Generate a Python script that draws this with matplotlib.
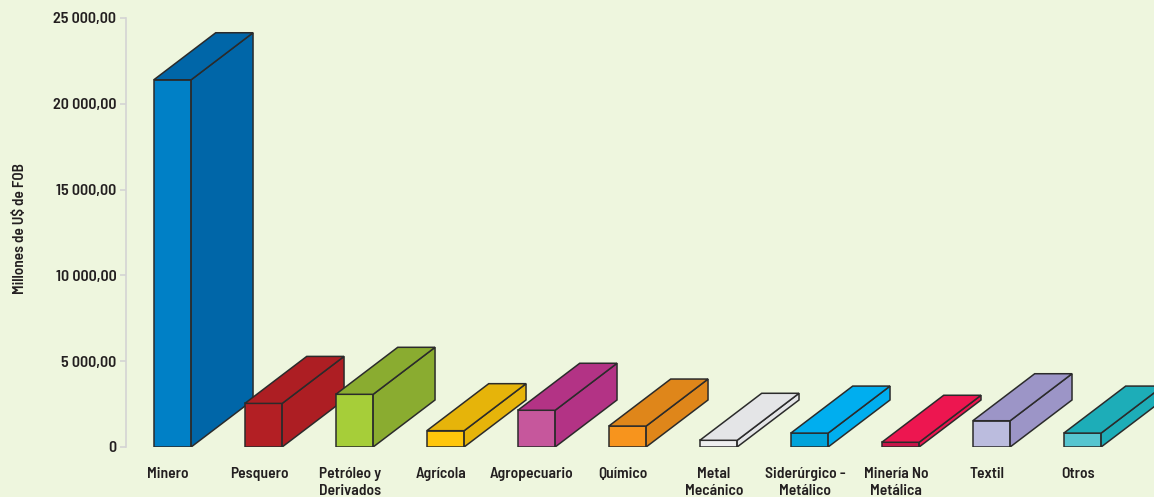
import matplotlib
matplotlib.use("Agg")
import matplotlib.pyplot as plt
from matplotlib.ticker import FuncFormatter

categorias = ["Minero", "Pesquero", "Petróleo y\nDerivados", "Agrícola", "Agropecuario",
              "Químico", "Metal\nMecánico", "Siderúrgico -\nMetálico", "Minería No\nMetálica",
              "Textil", "Otros"]
valores = [21400, 2540, 3070, 950, 2140, 1220, 390, 810, 275, 1530, 810]
color_frente = ["#0080c6", "#b31f24", "#a6ce39", "#ffc60b", "#c6579c", "#f7941d",
                "#eeeeef", "#00a3da", "#c8164a", "#bbbcde", "#56c5d0"]
color_lado = ["#0066a8", "#ad1e23", "#8aac30", "#e6b40a", "#b33385", "#df861a",
              "#e4e5e7", "#00aeef", "#ed1650", "#9c95c7", "#1dadb8"]

fondo = "#eef6de"
texto = "#231f20"
fuente = ["Barlow Semi Condensed", "Liberation Sans Narrow", "DejaVu Sans"]

fig = plt.figure(figsize=(11.54, 4.97), dpi=100, facecolor=fondo)
ax = fig.add_axes([126 / 1154, 50 / 497, 1028 / 1154, 429 / 497])
ax.set_facecolor(fondo)

ancho = 0.41      # ancho del frente
dx = 0.68         # profundidad en x
dy = 2740         # profundidad en y

for i, v in enumerate(valores):
    x0 = i - ancho / 2
    x1 = i + ancho / 2
    ec = "#2b2b2b"
    # frente
    ax.fill([x0, x1, x1, x0], [0, 0, v, v], facecolor=color_frente[i], edgecolor=ec, lw=1.1, zorder=3 + i)
    # lado
    ax.fill([x1, x1 + dx, x1 + dx, x1], [0, dy, v + dy, v], facecolor=color_lado[i], edgecolor=ec, lw=1.1, zorder=3 + i)
    # tapa
    ax.fill([x0, x1, x1 + dx, x0 + dx], [v, v, v + dy, v + dy], facecolor=color_lado[i], edgecolor=ec, lw=1.1, zorder=3 + i)

ax.set_xlim(-0.511, 10.786)
ax.set_ylim(0, 25000)
ax.set_yticks(range(0, 25001, 5000))


def fmt(y, pos):
    if y == 0:
        return "0"
    return f"{int(y):,}".replace(",", " ") + ",00"


ax.yaxis.set_major_formatter(FuncFormatter(fmt))
for s in ["top", "right", "bottom"]:
    ax.spines[s].set_visible(False)
ax.spines["left"].set_color("#d4d4d4")
ax.spines["left"].set_linewidth(1.2)
ax.tick_params(axis="y", colors="#d4d4d4", length=4, width=1.2, pad=3, labelcolor=texto)
ax.tick_params(axis="x", length=0)
ax.set_xticks([])
for lab in ax.get_yticklabels():
    lab.set_fontfamily(fuente)
    lab.set_fontsize(11.5)
    lab.set_fontweight("semibold")

for i, c in enumerate(categorias):
    ax.text(i - 0.05, -1150, c, ha="center", va="top", fontsize=11.2, fontweight="semibold",
            fontfamily=fuente, color=texto, linespacing=1.3, clip_on=False)

fig.text(20 / 1154, 1 - 229 / 497, "Millones de U$ de FOB", rotation=90, ha="center", va="center",
         fontsize=11, fontweight="semibold", fontfamily=fuente, color=texto)

fig.savefig("out.png", dpi=100, facecolor=fondo)
